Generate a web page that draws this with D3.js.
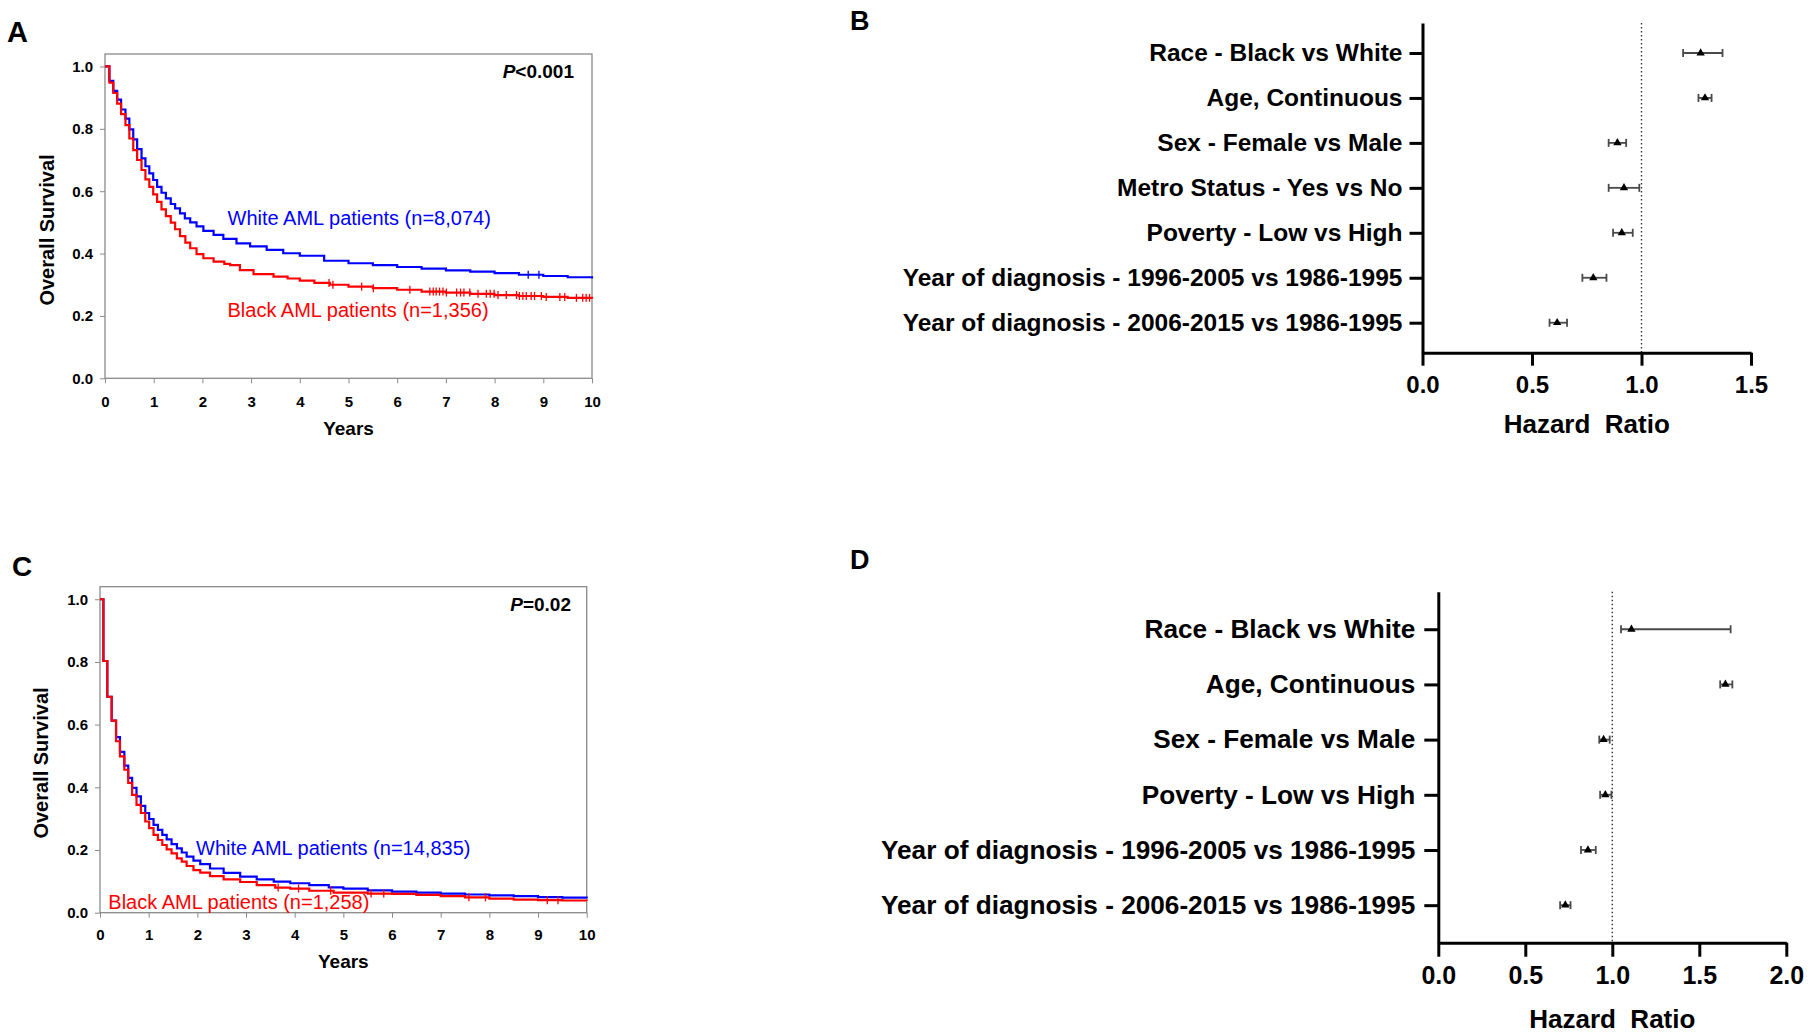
<!DOCTYPE html>
<html>
<head>
    <meta charset="UTF-8">
    <title></title>
    <script src="https://cdn.jsdelivr.net/npm/d3@7"></script>
    <style>
        body{
            padding: 0;
            margin: 0;
            background: #fff;
        }
        text{
            font-family: "Liberation Sans", Arial, sans-serif;
        }
        .km .tick line{ stroke: #8a8a8a; }
        .km .domain{ display: none; }
        .km .tick text{ font-size: 15px; font-weight: bold; fill: #000; }
        .forest .domain, .forest .tick line{ stroke: #000; stroke-width: 3px; }
        .forest .tick text{ font-weight: bold; fill: #000; }
    </style>
</head>
<body>
<div class="first"></div>

<script>

    // ---- data ----
    var kmXTicks = [0,1,2,3,4,5,6,7,8,9,10];
    var kmYTicks = [0,0.2,0.4,0.6,0.8,1.0];

    // panel A (survival step curves, time in years)
    var whiteA_t = [0,0.09,0.17,0.25,0.33,0.42,0.50,0.58,0.66,0.75,0.83,0.91,0.99,1.07,1.16,1.25,1.35,1.44,1.54,1.64,1.75,1.88,2.02,2.23,2.43,2.70,2.98,3.32,3.66,4.0,4.5,5.0,5.5,6.0,6.5,7.0,7.5,8.0,8.5,9.0,9.5,10];
    var whiteA_s = [1.0,0.954,0.922,0.894,0.862,0.833,0.798,0.766,0.735,0.705,0.680,0.657,0.636,0.614,0.595,0.577,0.559,0.545,0.529,0.513,0.500,0.487,0.473,0.460,0.447,0.433,0.423,0.412,0.401,0.393,0.377,0.369,0.363,0.357,0.352,0.346,0.342,0.337,0.332,0.328,0.324,0.320];
    var blackA_t = [0,0.09,0.17,0.25,0.33,0.42,0.50,0.58,0.66,0.75,0.83,0.91,0.99,1.07,1.16,1.25,1.35,1.44,1.54,1.65,1.75,1.88,2.02,2.23,2.45,2.57,2.77,3.05,3.46,3.75,4.0,4.3,4.62,5.0,5.5,6.0,6.5,7.0,7.5,8.0,8.5,9.0,9.5,10];
    var blackA_s = [1.0,0.948,0.915,0.881,0.847,0.812,0.769,0.732,0.700,0.668,0.638,0.614,0.590,0.566,0.542,0.520,0.499,0.478,0.456,0.435,0.417,0.398,0.385,0.374,0.367,0.363,0.347,0.334,0.326,0.320,0.313,0.306,0.300,0.294,0.289,0.284,0.278,0.275,0.271,0.267,0.264,0.261,0.258,0.255];
    var whiteA_cens = [8.69,8.91];
    var blackA_cens = [4.6,4.68,5.27,5.51,6.26,6.67,6.74,6.80,6.87,6.94,7.01,7.22,7.30,7.37,7.49,7.66,7.83,7.91,7.99,8.07,8.24,8.45,8.51,8.58,8.65,8.75,8.82,8.96,9.06,9.34,9.44,9.68,9.81,9.88,9.95];

    // panel C
    var whiteC_t = [0,0.07,0.15,0.24,0.33,0.41,0.50,0.58,0.66,0.75,0.84,0.93,1.01,1.10,1.19,1.28,1.37,1.47,1.58,1.68,1.78,1.92,2.06,2.26,2.54,2.88,3.22,3.57,3.91,4.3,4.7,5.0,5.5,6.0,6.5,7.0,7.5,8.0,8.5,9.0,9.5,10];
    var whiteC_s = [1.0,0.803,0.689,0.613,0.560,0.513,0.469,0.430,0.398,0.371,0.341,0.318,0.299,0.280,0.264,0.248,0.234,0.219,0.205,0.192,0.179,0.166,0.155,0.141,0.127,0.115,0.106,0.099,0.094,0.088,0.081,0.077,0.071,0.067,0.064,0.061,0.058,0.055,0.053,0.050,0.048,0.046];
    var blackC_t = [0,0.07,0.15,0.24,0.33,0.41,0.50,0.58,0.66,0.75,0.84,0.93,1.01,1.10,1.19,1.28,1.37,1.47,1.58,1.68,1.78,1.92,2.06,2.26,2.54,2.88,3.22,3.6,3.91,4.3,4.8,5.5,6.0,6.5,7.0,7.5,8.0,8.5,9.0,9.5,10];
    var blackC_s = [1.0,0.803,0.689,0.613,0.547,0.499,0.456,0.414,0.376,0.344,0.318,0.291,0.270,0.248,0.232,0.216,0.202,0.189,0.173,0.163,0.149,0.136,0.128,0.117,0.106,0.098,0.088,0.080,0.077,0.070,0.064,0.061,0.060,0.057,0.053,0.049,0.045,0.042,0.040,0.039,0.038];
    var whiteC_cens = [];
    var blackC_cens = [3.66,4.08,4.74,5.57,5.83,7.58,7.92,9.19,9.41];

    // panel B (hazard ratios)
    var catsB = ["Race - Black vs White","Age, Continuous","Sex - Female vs Male","Metro Status - Yes vs No","Poverty - Low vs High","Year of diagnosis - 1996-2005 vs 1986-1995","Year of diagnosis - 2006-2015 vs 1986-1995"];
    var hrB = [1.27,1.29,0.89,0.92,0.91,0.78,0.615];
    var loB = [1.19,1.26,0.85,0.85,0.87,0.73,0.58];
    var hiB = [1.37,1.32,0.93,0.99,0.96,0.84,0.66];
    var ticksB = [0,0.5,1.0,1.5];

    // panel D
    var catsD = ["Race - Black vs White","Age, Continuous","Sex - Female vs Male","Poverty - Low vs High","Year of diagnosis - 1996-2005 vs 1986-1995","Year of diagnosis - 2006-2015 vs 1986-1995"];
    var hrD = [1.11,1.65,0.95,0.96,0.86,0.73];
    var loD = [1.05,1.62,0.925,0.93,0.82,0.70];
    var hiD = [1.68,1.69,0.985,0.995,0.905,0.76];
    var ticksD = [0,0.5,1.0,1.5,2.0];

    var svg = d3.select(".first")
        .append("svg")
        .attr("width",1812)
        .attr("height",1035);

    function panelLetter(txt,x,y,size){
        svg.append("text").attr("x",x).attr("y",y)
            .style("font-size",size+"px").style("font-weight","bold")
            .text(txt);
    }

    function drawKM(o){
        var g = svg.append("g").attr("class","km");
        var x = d3.scaleLinear().domain([0,10]).range([o.left,o.right]);
        var y = d3.scaleLinear().domain([0,1.04]).range([o.bottom,o.top]);

        g.append("rect")
            .attr("x",o.left).attr("y",o.top)
            .attr("width",o.right-o.left).attr("height",o.bottom-o.top)
            .attr("fill","none").attr("stroke","#8a8a8a").attr("stroke-width",1.3);

        g.append("g")
            .attr("transform","translate("+o.left+",0)")
            .call(d3.axisLeft(y).tickValues(kmYTicks).tickSize(5).tickPadding(7).tickFormat(d3.format(".1f")));
        g.append("g")
            .attr("transform","translate(0,"+o.bottom+")")
            .call(d3.axisBottom(x).tickValues(kmXTicks).tickSize(5).tickPadding(o.xPad));

        var line = d3.line()
            .x(function(d){ return x(d[0]); })
            .y(function(d){ return y(d[1]); })
            .curve(d3.curveStepAfter);

        o.series.forEach(function(s){
            var pts = d3.zip(s.t,s.s);
            g.append("path").datum(pts)
                .attr("d",line)
                .attr("fill","none")
                .attr("stroke",s.color)
                .attr("stroke-width",2.2);
            var bis = d3.bisector(function(d){ return d; }).right;
            g.selectAll(null).data(s.cens).enter().append("line")
                .attr("x1",function(d){ return x(d); })
                .attr("x2",function(d){ return x(d); })
                .attr("y1",function(d){ return y(s.s[bis(s.t,d)-1])-4; })
                .attr("y2",function(d){ return y(s.s[bis(s.t,d)-1])+4; })
                .attr("stroke",s.color).attr("stroke-width",1.3);
            g.append("text")
                .attr("x",s.lx).attr("y",s.ly)
                .attr("fill",s.color)
                .style("font-size","20px")
                .text(s.label);
        });

        var pt = g.append("text")
            .attr("x",o.pX).attr("y",o.pY)
            .attr("text-anchor","end")
            .style("font-size","19px").style("font-weight","bold");
        pt.append("tspan").style("font-style","italic").text("P");
        pt.append("tspan").text(o.pText);

        g.append("text")
            .attr("x",(o.left+o.right)/2).attr("y",o.yearsY)
            .attr("text-anchor","middle")
            .style("font-size","19px").style("font-weight","bold")
            .text("Years");
        g.append("text")
            .attr("transform","translate("+o.ylabX+","+o.ylabY+") rotate(-90)")
            .attr("text-anchor","middle")
            .style("font-size","20px").style("font-weight","bold")
            .text("Overall Survival");
    }

    function drawForest(o){
        var g = svg.append("g").attr("class","forest");
        var x = d3.scaleLinear().domain([0,o.ticks[o.ticks.length-1]]).range([o.left,o.right]);
        var y = d3.scalePoint().domain(o.cats).range([o.top,o.bottom]).padding(o.pad);

        // reference line at HR = 1
        g.append("line")
            .attr("x1",x(1)).attr("x2",x(1))
            .attr("y1",o.top).attr("y2",o.bottom)
            .attr("stroke","#333").attr("stroke-width",1.4)
            .attr("stroke-dasharray","1.5,2.5");

        var ya = g.append("g")
            .attr("transform","translate("+o.left+",0)")
            .call(d3.axisLeft(y).tickSize(o.tick).tickSizeOuter(0).tickPadding(o.yPad));
        ya.selectAll(".tick text").style("font-size",o.fs+"px");

        var xa = g.append("g")
            .attr("transform","translate(0,"+o.bottom+")")
            .call(d3.axisBottom(x).tickValues(o.ticks).tickSize(o.tick).tickSizeOuter(0).tickPadding(o.xPad).tickFormat(d3.format(".1f")));
        xa.selectAll(".tick text").style("font-size",o.xfs+"px");

        var rows = o.cats.map(function(c,i){ return {c:c,hr:o.hr[i],lo:o.lo[i],hi:o.hi[i]}; });

        g.selectAll(".ci").data(rows).enter().append("line")
            .attr("x1",function(d){ return x(d.lo); })
            .attr("x2",function(d){ return x(d.hi); })
            .attr("y1",function(d){ return y(d.c); })
            .attr("y2",function(d){ return y(d.c); })
            .attr("stroke","#4a4a4a").attr("stroke-width",1.8);
        ["lo","hi"].forEach(function(k){
            g.selectAll(".cap"+k).data(rows).enter().append("line")
                .attr("x1",function(d){ return x(d[k]); })
                .attr("x2",function(d){ return x(d[k]); })
                .attr("y1",function(d){ return y(d.c)-4; })
                .attr("y2",function(d){ return y(d.c)+4; })
                .attr("stroke","#4a4a4a").attr("stroke-width",1.8);
        });
        g.selectAll(".pt").data(rows).enter().append("path")
            .attr("d",d3.symbol(d3.symbolTriangle,30))
            .attr("transform",function(d){ return "translate("+x(d.hr)+","+y(d.c)+")"; })
            .attr("fill","#000");

        g.append("text")
            .attr("x",(o.left+o.right)/2).attr("y",o.titleY)
            .attr("text-anchor","middle")
            .style("font-size",o.tfs+"px").style("font-weight","bold")
            .style("white-space","pre")
            .text("Hazard  Ratio");
    }

    panelLetter("A",7,41.7,29);
    panelLetter("B",850,30,27);
    panelLetter("C",12,576,28);
    panelLetter("D",850,568.5,27);

    drawKM({
        left:105, right:592, top:54, bottom:378.3, xPad:13,
        series:[
            {t:whiteA_t,s:whiteA_s,cens:whiteA_cens,color:"#0000ff",label:"White AML patients (n=8,074)",lx:227.5,ly:225},
            {t:blackA_t,s:blackA_s,cens:blackA_cens,color:"#ff0000",label:"Black AML patients (n=1,356)",lx:227.5,ly:316.7}
        ],
        pText:"<0.001", pX:574, pY:78,
        yearsY:435, ylabX:53.6, ylabY:230
    });

    drawKM({
        left:100, right:586.7, top:586.7, bottom:912.7, xPad:12,
        series:[
            {t:whiteC_t,s:whiteC_s,cens:whiteC_cens,color:"#0000ff",label:"White AML patients (n=14,835)",lx:196,ly:855},
            {t:blackC_t,s:blackC_s,cens:blackC_cens,color:"#ff0000",label:"Black AML patients (n=1,258)",lx:108.3,ly:908.5}
        ],
        pText:"=0.02", pX:571, pY:611,
        yearsY:968.3, ylabX:47.8, ylabY:763
    });

    drawForest({
        cats:catsB, hr:hrB, lo:loB, hi:hiB, ticks:ticksB,
        left:1422.5, right:1751, top:23, bottom:352.7, pad:0.667,
        tick:13, yPad:7, xPad:10, fs:24.5, xfs:24, tfs:26, titleY:433.3
    });

    drawForest({
        cats:catsD, hr:hrD, lo:loD, hi:hiD, ticks:ticksD,
        left:1438.3, right:1786.3, top:591.7, bottom:942.7, pad:0.68,
        tick:14, yPad:9, xPad:10, fs:26.2, xfs:25, tfs:26, titleY:1028
    });

</script>
</body>
</html>
